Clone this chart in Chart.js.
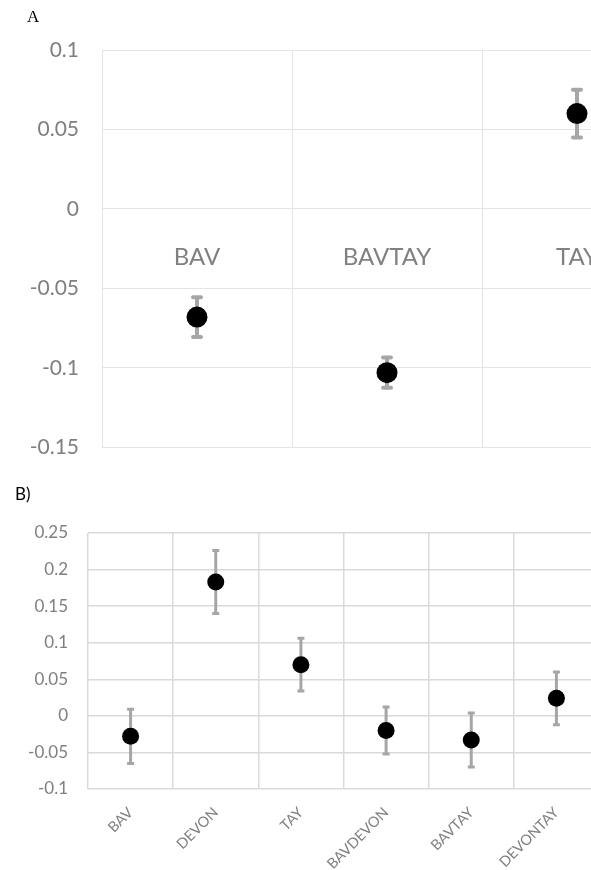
<!DOCTYPE html>
<html>
<head>
<meta charset="utf-8">
<script src="https://cdn.jsdelivr.net/npm/chart.js@4/dist/chart.umd.min.js"></script>
<style>
  html, body { margin:0; padding:0; background:#fff; overflow:hidden; width:591px; height:870px; }
  #wrapA { position:absolute; left:0; top:0; width:700px; height:483px; }
  #wrapB { position:absolute; left:0; top:460px; width:610px; height:410px; }
  #labelA { position:absolute; left:27px; top:8px; font-family:'Liberation Serif', serif; font-size:17px; line-height:1; color:#000; }
  #labelB { position:absolute; left:15px; top:485px; font-family:Lato, sans-serif; font-size:17px; line-height:1; color:#000; }
</style>
</head>
<body>
<div id="wrapA"><canvas id="chartA"></canvas></div>
<div id="wrapB"><canvas id="chartB"></canvas></div>
<div id="labelA">A</div>
<div id="labelB">B)</div>
<script>
// ---- Panel A data ----
const categoriesA = ['BAV', 'BAVTAY', 'TAY'];
const meansA = [-0.068, -0.103, 0.060];
const errorsA = [0.0125, 0.0095, 0.015];
const yTicksA = [-0.15, -0.1, -0.05, 0, 0.05, 0.1];

// ---- Panel B data ----
const categoriesB = ['BAV', 'DEVON', 'TAY', 'BAVDEVON', 'BAVTAY', 'DEVONTAY'];
const meansB = [-0.028, 0.183, 0.070, -0.020, -0.033, 0.024];
const errorsB = [0.037, 0.043, 0.036, 0.032, 0.037, 0.036];
const yTicksB = [-0.1, -0.05, 0, 0.05, 0.1, 0.15, 0.2, 0.25];

const fmt = v => String(Math.round(v * 100) / 100);

const errorBars = {
  id: 'errorBars',
  beforeDatasetsDraw(chart, args, opts) {
    const { ctx } = chart;
    const x = chart.scales.x, y = chart.scales.y;
    ctx.save();
    ctx.strokeStyle = opts.color;
    ctx.lineWidth = opts.width;
    ctx.lineCap = opts.cap;
    opts.means.forEach((m, i) => {
      const px = x.getPixelForValue(i);
      const top = y.getPixelForValue(m + opts.errors[i]);
      const bot = y.getPixelForValue(m - opts.errors[i]);
      ctx.beginPath();
      ctx.moveTo(px, top); ctx.lineTo(px, bot);
      ctx.moveTo(px - opts.capHalf, top); ctx.lineTo(px + opts.capHalf, top);
      ctx.moveTo(px - opts.capHalf, bot); ctx.lineTo(px + opts.capHalf, bot);
      ctx.stroke();
    });
    ctx.restore();
  }
};

new Chart(document.getElementById('chartA'), {
  type: 'line',
  data: {
    labels: categoriesA,
    datasets: [{
      data: meansA,
      showLine: false,
      pointRadius: 10.5,
      pointHoverRadius: 10.5,
      pointBackgroundColor: '#000',
      pointBorderColor: '#000',
      pointBorderWidth: 0,
      clip: false
    }]
  },
  options: {
    responsive: true,
    maintainAspectRatio: false,
    animation: false,
    events: [],
    layout: { padding: { top: 50, right: 28, bottom: 0, left: 0 } },
    plugins: {
      legend: { display: false },
      tooltip: { enabled: false },
      errorBars: { means: meansA, errors: errorsA, color: '#a6a6a6', width: 4, cap: 'round', capHalf: 4 }
    },
    scales: {
      x: {
        type: 'category',
        offset: true,
        position: { y: 0 },
        grid: { offset: true, color: '#e4e4e4', lineWidth: 1, drawTicks: false },
        border: { display: false },
        ticks: { padding: 34, color: '#808080', font: { family: 'Lato', size: 24 }, autoSkip: false, maxRotation: 0, minRotation: 0 }
      },
      y: {
        min: yTicksA[0],
        max: yTicksA[yTicksA.length - 1],
        afterFit(s) { s.width = 102; },
        afterBuildTicks(s) { s.ticks = yTicksA.map(v => ({ value: v })); },
        grid: { color: '#e4e4e4', lineWidth: 1, drawTicks: false },
        border: { display: false },
        ticks: { padding: 23, color: '#7f7f7f', font: { family: 'Lato', size: 21 }, callback: v => fmt(v) }
      }
    }
  },
  plugins: [errorBars]
});

new Chart(document.getElementById('chartB'), {
  type: 'line',
  data: {
    labels: categoriesB,
    datasets: [{
      data: meansB,
      showLine: false,
      pointRadius: 8.5,
      pointHoverRadius: 8.5,
      pointBackgroundColor: '#000',
      pointBorderColor: '#000',
      pointBorderWidth: 0,
      clip: false
    }]
  },
  options: {
    responsive: true,
    maintainAspectRatio: false,
    animation: false,
    events: [],
    layout: { padding: { top: 73, right: 11, bottom: 0, left: 0 } },
    plugins: {
      legend: { display: false },
      tooltip: { enabled: false },
      errorBars: { means: meansB, errors: errorsB, color: '#a6a6a6', width: 3, cap: 'butt', capHalf: 3.5 }
    },
    scales: {
      x: {
        type: 'category',
        offset: true,
        afterFit(s) { s.height = 81; },
        grid: { offset: true, color: '#dadada', lineWidth: 1.5, drawTicks: false },
        border: { display: false },
        ticks: { padding: 15, color: '#808080', font: { family: 'Lato', size: 14.5 }, autoSkip: false, maxRotation: 45, minRotation: 45 }
      },
      y: {
        min: yTicksB[0],
        max: yTicksB[yTicksB.length - 1],
        afterFit(s) { s.width = 88; },
        afterBuildTicks(s) { s.ticks = yTicksB.map(v => ({ value: v })); },
        grid: { color: '#dadada', lineWidth: 1.5, drawTicks: false },
        border: { display: false },
        ticks: { padding: 20, color: '#7f7f7f', font: { family: 'Lato', size: 17 }, callback: v => fmt(v) }
      }
    }
  },
  plugins: [errorBars]
});
</script>
</body>
</html>
